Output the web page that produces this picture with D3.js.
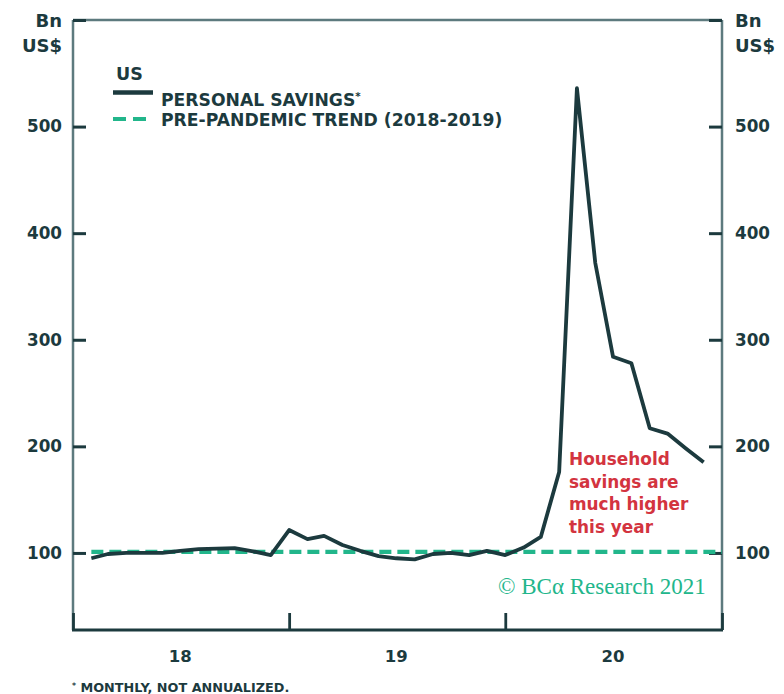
<!DOCTYPE html>
<html>
<head>
<meta charset="utf-8">
<script src="https://cdn.jsdelivr.net/npm/d3@7"></script>
<style>
  html, body { margin: 0; padding: 0; background: #ffffff; }
  svg { display: block; }
</style>
</head>
<body>
<svg id="chart" width="784" height="694"></svg>
<script>
// ---- data (monthly, Jan 2018 – Nov 2020) ----
const months = [
  "2018-01","2018-02","2018-03","2018-04","2018-05","2018-06","2018-07","2018-08","2018-09","2018-10","2018-11","2018-12",
  "2019-01","2019-02","2019-03","2019-04","2019-05","2019-06","2019-07","2019-08","2019-09","2019-10","2019-11","2019-12",
  "2020-01","2020-02","2020-03","2020-04","2020-05","2020-06","2020-07","2020-08","2020-09","2020-10","2020-11"
];
const personalSavings = [
  95, 99, 100, 100, 100, 102, 103.5, 104, 104.5, 101.5, 98, 121.5,
  113, 116, 107.5, 102, 97, 95, 94, 99, 100, 98, 102, 98,
  105, 115, 176, 536, 372, 284, 278, 217, 212, 198, 185
];
const trendMonths = ["2018-01", "2020-12"];
const trendValues = [101, 101];
const yTicks = [100, 200, 300, 400, 500, 600];
const yTickLabels = ["100", "200", "300", "400", "500", ""];
const yearTicks = ["2018-01-01", "2019-01-01", "2020-01-01", "2021-01-01"];
const yearLabels = ["18", "19", "20"];
const legendTitle = "US";
const seriesNames = ["PERSONAL SAVINGS*", "PRE-PANDEMIC TREND (2018-2019)"];
const annotation = ["Household", "savings are", "much higher", "this year"];
const unitLabel = ["Bn", "US$"];
const footnote = "* MONTHLY, NOT ANNUALIZED.";
const credit = "© BCα Research 2021";

// ---- layout ----
const svg = d3.select("#chart");
const L = 73, R = 722, T = 20, B = 630;
const dark = "#1c3a3e", frame = "#5d7a7e", green = "#22b68b", red = "#d3343f";
const font = "'DejaVu Sans', sans-serif";

const parseM = d3.timeParse("%Y-%m");
const parseD = d3.timeParse("%Y-%m-%d");
// monthly values are plotted at month end
const monthEnd = m => d3.timeMonth.offset(parseM(m), 1);

const x = d3.scaleTime().domain([parseD("2018-01-01"), parseD("2021-01-01")]).range([L, R]);
const y = d3.scaleLinear().domain([27.7, 600]).range([B, T]);

// helper: write text with small raised asterisks
function starText(sel, str, size) {
  const parts = str.split(/(\*)/).filter(p => p !== "");
  let pending = 0;
  parts.forEach(p => {
    if (p === "*") {
      sel.append("tspan").attr("font-size", size * 0.6).attr("dy", -size * 0.3 + pending).text("*");
      pending = size * 0.3;
    } else {
      sel.append("tspan").attr("dy", pending).text(p);
      pending = 0;
    }
  });
}

// frame
svg.append("line").attr("x1", L).attr("x2", R).attr("y1", T).attr("y2", T).attr("stroke", frame).attr("stroke-width", 2.5);
svg.append("line").attr("x1", L).attr("x2", L).attr("y1", T).attr("y2", B).attr("stroke", frame).attr("stroke-width", 2.5);
svg.append("line").attr("x1", R).attr("x2", R).attr("y1", T).attr("y2", B).attr("stroke", frame).attr("stroke-width", 2.5);
svg.append("line").attr("x1", L - 1).attr("x2", R + 1).attr("y1", B).attr("y2", B).attr("stroke", dark).attr("stroke-width", 2.8);

// left axis
const yLeft = d3.axisLeft(y).tickValues(yTicks).tickSize(-13).tickPadding(25)
  .tickFormat((d, i) => yTickLabels[i]);
const gL = svg.append("g").attr("transform", `translate(${L},0)`).call(yLeft);
gL.select(".domain").remove();
gL.selectAll(".tick line").attr("stroke", dark).attr("stroke-width", 3);
gL.selectAll(".tick text").attr("fill", dark).attr("font-family", font).attr("font-weight", "bold").attr("font-size", 16.8).attr("x", -11);

// right axis
const yRight = d3.axisRight(y).tickValues(yTicks).tickSize(-13).tickPadding(25)
  .tickFormat((d, i) => yTickLabels[i]);
const gR = svg.append("g").attr("transform", `translate(${R},0)`).call(yRight);
gR.select(".domain").remove();
gR.selectAll(".tick line").attr("stroke", dark).attr("stroke-width", 3);
gR.selectAll(".tick text").attr("fill", dark).attr("font-family", font).attr("font-weight", "bold").attr("font-size", 16.8).attr("x", 13);

// bottom axis ticks
const xAxis = d3.axisBottom(x).tickValues(yearTicks.map(parseD)).tickSize(-17).tickFormat("");
const gX = svg.append("g").attr("transform", `translate(0,${B})`).call(xAxis);
gX.select(".domain").remove();
gX.selectAll(".tick line").attr("stroke", dark).attr("stroke-width", 2.8);

// year labels centered mid-year
svg.append("g").selectAll("text").data(yearLabels).join("text")
  .attr("x", (d, i) => x(d3.timeMonth.offset(parseD(yearTicks[i]), 6)))
  .attr("y", 662)
  .attr("text-anchor", "middle")
  .attr("fill", dark).attr("font-family", font).attr("font-weight", "bold").attr("font-size", 16.5)
  .text(d => d);

// unit labels
[[62, "end"], [735, "start"]].forEach(([xx, anchor]) => {
  svg.append("g").selectAll("text").data(unitLabel).join("text")
    .attr("x", xx).attr("y", (d, i) => 27 + i * 25)
    .attr("text-anchor", anchor)
    .attr("fill", dark).attr("font-family", font).attr("font-weight", "bold").attr("font-size", 18)
    .text(d => d);
});

// trend line
const trend = trendMonths.map((m, i) => ({ date: monthEnd(m), v: trendValues[i] }));
svg.append("path").datum(trend)
  .attr("d", d3.line().x(d => x(d.date)).y(d => y(d.v)))
  .attr("fill", "none").attr("stroke", green).attr("stroke-width", 4.2)
  .attr("stroke-dasharray", "12,6");

// savings line
const series = months.map((m, i) => ({ date: monthEnd(m), v: personalSavings[i] }));
svg.append("path").datum(series)
  .attr("d", d3.line().x(d => x(d.date)).y(d => y(d.v)))
  .attr("fill", "none").attr("stroke", dark).attr("stroke-width", 3.8)
  .attr("stroke-linejoin", "round").attr("stroke-linecap", "butt");

// legend
svg.append("text").attr("x", 116).attr("y", 80).attr("fill", dark)
  .attr("font-family", font).attr("font-weight", "bold").attr("font-size", 17.5).text(legendTitle);
svg.append("line").attr("x1", 113).attr("x2", 153).attr("y1", 92.5).attr("y2", 92.5)
  .attr("stroke", dark).attr("stroke-width", 4.5);
svg.append("line").attr("x1", 113).attr("x2", 153).attr("y1", 119).attr("y2", 119)
  .attr("stroke", green).attr("stroke-width", 4.2).attr("stroke-dasharray", "13,7");
seriesNames.forEach((name, i) => {
  const t = svg.append("text").attr("x", 161).attr("y", 105.5 + i * 20)
    .attr("fill", dark).attr("font-family", font).attr("font-weight", "bold").attr("font-size", 17.2);
  starText(t, name, 17.2);
});

// annotation
svg.append("g").selectAll("text").data(annotation).join("text")
  .attr("x", 569).attr("y", (d, i) => 465 + i * 22.5)
  .attr("fill", red).attr("font-family", font).attr("font-weight", "bold").attr("font-size", 16.9)
  .text(d => d);

// credit
svg.append("text").attr("x", 498).attr("y", 594)
  .attr("fill", green).attr("font-family", "'Liberation Serif', 'DejaVu Serif', serif").attr("font-size", 23)
  .text(credit);

// footnote
const fn = svg.append("text").attr("x", 72).attr("y", 692)
  .attr("fill", dark).attr("font-family", font).attr("font-weight", "bold").attr("font-size", 12.8);
starText(fn, footnote, 12.8);
</script>
</body>
</html>
